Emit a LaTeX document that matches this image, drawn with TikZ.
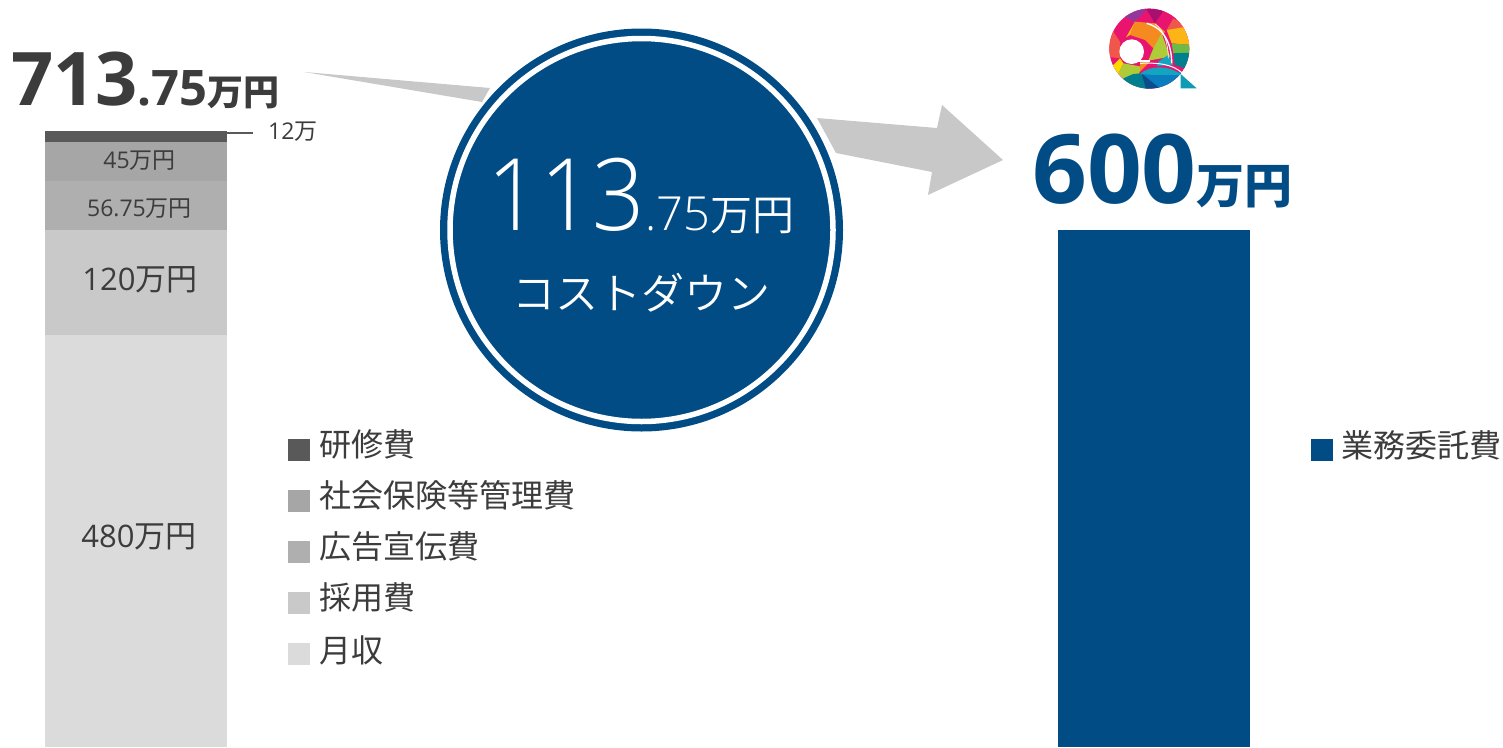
\documentclass[tikz,border=0pt]{standalone}
\usepackage{fontspec}
\usepackage{graphicx}
\setmainfont{Open Sans}
\newfontfamily\jp{Noto Sans CJK JP}
\newfontfamily\jpl{Noto Sans CJK JP DemiLight}
\newfontfamily\lgt{Open Sans Light}
\definecolor{navy}{HTML}{024C85}
\definecolor{ink}{HTML}{3C3C3C}
\definecolor{arrowgrey}{HTML}{C8C8C8}
\definecolor{seg1}{HTML}{595959}
\definecolor{seg2}{HTML}{A6A6A6}
\definecolor{seg3}{HTML}{AFAFAF}
\definecolor{seg4}{HTML}{C9C9C9}
\definecolor{seg5}{HTML}{DBDBDB}
\definecolor{lgpurple}{HTML}{93379B}
\definecolor{lgmag}{HTML}{A80F6E}
\definecolor{lgpink}{HTML}{E8146F}
\definecolor{lgred}{HTML}{F0574A}
\definecolor{lgorange}{HTML}{F58A20}
\definecolor{lgamber}{HTML}{FDB515}
\definecolor{lggreen}{HTML}{6DBB45}
\definecolor{lgteal}{HTML}{00808F}
\definecolor{lglime}{HTML}{AFCB37}
\definecolor{lgyellow}{HTML}{FFD800}
\definecolor{lgcyan}{HTML}{12A5C0}
\definecolor{lgdeep}{HTML}{0B4C8C}
\definecolor{lgblue}{HTML}{0A7DBE}
\tikzset{
 seglabel/.style={text=ink,inner sep=0pt,anchor=center},
 legtext/.style={text=ink,inner sep=0pt,anchor=west,font=\jp\fontsize{32}{32}\selectfont},
 legbox/.style={minimum width=22pt,minimum height=22pt,inner sep=0pt,anchor=center},
 bigtotal/.style={text=ink,inner sep=0pt,anchor=base west},
}
\begin{document}
\begin{tikzpicture}[x=1pt,y=-1pt]
\useasboundingbox (0,0) rectangle (1503,747);
% arrow
\fill[arrowgrey] (304,72) -- (490,88) -- (482,102) -- cycle;
\fill[arrowgrey] (817,118) -- (937,128) -- (942,105) -- (1003,160) -- (928,195) -- (932,172) -- (836,153) -- cycle;
% left stack
\fill[seg5] (45,335) rectangle (227,747);
\fill[seg4] (45,230) rectangle (227,335);
\fill[seg3] (45,181) rectangle (227,230);
\fill[seg2] (45,142) rectangle (227,181);
\fill[seg1] (45,131) rectangle (227,142);
\coordinate (lead0) at (227,132.5);
\coordinate (lead1) at (253,132.5);
\draw[seg1,line width=2pt] (lead0) -- (lead1);
\node[seglabel,anchor=west] (l12) at (268,132) {\fontsize{23}{23}\selectfont 12\jp 万};
\node[seglabel] (l45) at (139.5,160.5) {\fontsize{23}{23}\selectfont 45\jp 万円};
\node[seglabel] (l56) at (139.5,208.5) {\fontsize{23}{23}\selectfont 56.75\jp 万円};
\node[seglabel] (l120) at (140,280) {\fontsize{31}{31}\selectfont 120\jp 万円};
\node[seglabel] (l480) at (139,537) {\fontsize{31}{31}\selectfont 480\jp 万円};
% totals
\node[bigtotal] (t713) at (11,105) {\bfseries\fontsize{74}{74}\selectfont 713\fontsize{49}{49}\selectfont .75\jp\bfseries\fontsize{36}{36}\selectfont 万円};
\node[bigtotal,text=navy] (t600) at (1032,203) {\bfseries\fontsize{96}{96}\selectfont 600\jp\bfseries\fontsize{48}{48}\selectfont 万円};
% circle
\node[circle,fill=navy,minimum size=403pt,inner sep=0pt] (c0) at (641.5,230) {};
\node[circle,draw=white,line width=5.5pt,fill=navy,minimum size=383pt,inner sep=0pt,outer sep=0pt] (c1) at (641.5,230) {};
\node[text=white,inner sep=0pt,anchor=base west] (t113) at (487.5,230) {\lgt\scalebox{0.92}[1]{\fontsize{100}{100}\selectfont 113}\fontsize{47}{47}\selectfont .75\jpl\fontsize{42}{42}\selectfont 万円};
\node[text=white,inner sep=0pt] (tcd) at (641.5,293) {\jpl\fontsize{43}{43}\selectfont コストダウン};
% right bar
\fill[navy] (1058,230) rectangle (1250,747);
% legends
\node[legbox,fill=seg1] (b1) at (299,450) {};
\node[legbox,fill=seg2] (b2) at (299,501) {};
\node[legbox,fill=seg3] (b3) at (299,552) {};
\node[legbox,fill=seg4] (b4) at (299,603) {};
\node[legbox,fill=seg5] (b5) at (299,654) {};
\node[legbox,fill=navy] (b6) at (1322,450) {};
\node[legtext] at (319.5,444) {研修費};
\node[legtext] at (319.5,495) {社会保険等管理費};
\node[legtext] at (319.5,546) {広告宣伝費};
\node[legtext] at (319.5,597) {採用費};
\node[legtext] at (319.5,650) {月収};
\node[legtext] at (1341.5,445) {業務委託費};
% logo (coordinates in 3x crop units)
\begin{scope}[shift={(1090,0)},x=0.3333pt,y=-0.3333pt]
\begin{scope}
\clip (178,146) circle (120);
\fill[lgpink] (50,20) rectangle (300,270);
\fill[lgpurple] (90,20) -- (170,20) -- (170,28) -- (135,65) -- (105,50) -- cycle;
\fill[lgmag] (135,20) -- (230,20) -- (195,70) -- (170,28) -- cycle;
\fill[lgpink] (230,20) -- (260,60) -- (235,85) -- (195,70) -- cycle;
\fill[lgred] (250,55) -- (300,85) -- (230,90) -- cycle;
\fill[lgamber] (230,90) -- (290,80) -- (305,135) -- (245,130) -- cycle;
\fill[lggreen] (245,130) -- (305,135) -- (305,160) -- (250,160) -- cycle;
\fill[lgteal] (250,160) -- (305,158) -- (300,210) -- (255,195) -- cycle;
\fill[lgorange] (135,65) -- (195,70) -- (225,95) -- (190,145) -- (165,120) -- (120,105) -- cycle;
\fill[lgamber] (135,65) -- (120,105) -- (108,112) -- cycle;
\fill[lgred] (50,90) -- (70,95) -- (90,125) -- (90,175) -- (50,170) -- cycle;
\fill[lgyellow] (90,175) -- (60,205) -- (85,222) -- (100,190) -- cycle;
\fill[lglime] (100,190) -- (85,222) -- (130,265) -- (155,200) -- cycle;
\fill[lglime] (215,100) -- (240,170) -- (175,182) -- (190,145) -- cycle;
\fill[lgorange] (150,185) -- (180,185) -- (150,215) -- cycle;
\fill[lgcyan] (205,185) -- (235,165) -- (250,195) -- (200,198) -- cycle;
\fill[lgteal] (100,235) -- (130,222) -- (155,220) -- (175,275) -- (100,275) -- cycle;
\fill[lgdeep] (155,220) -- (225,275) -- (170,275) -- cycle;
\fill[lgblue] (155,220) -- (280,215) -- (290,275) -- (222,275) -- cycle;
\fill[lgcyan] (150,222) .. controls (180,195) and (240,195) .. (275,225) -- (190,225) -- cycle;
\end{scope}
\fill[lgcyan!75!lgteal] (272,222) -- (320,265) -- (272,265) -- cycle;
\draw[white,line width=1.4pt] (170,70) .. controls (225,85) and (245,135) .. (245,190);
\draw[white,line width=0.7pt] (195,72) .. controls (225,90) and (235,140) .. (235,175);
\draw[white,line width=1pt] (150,190) .. controls (200,188) and (245,190) .. (278,220);
\fill[white] (125,155) circle (37);
\fill[white] (140,180) rectangle (180,187);
\end{scope}
\end{tikzpicture}
\end{document}
